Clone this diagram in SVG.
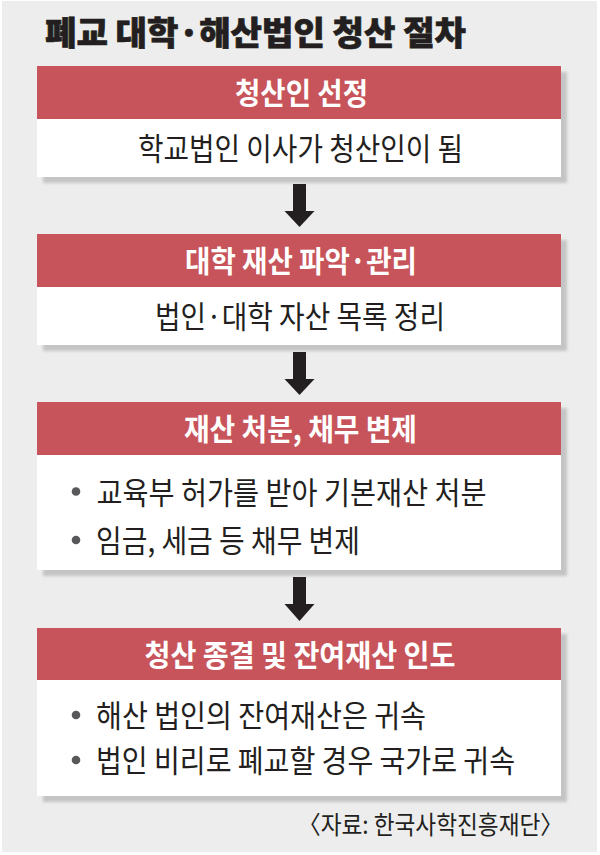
<svg xmlns="http://www.w3.org/2000/svg" width="600" height="855" viewBox="0 0 600 855">
  <defs>
    <filter id="shadow" x="-5%" y="-5%" width="115%" height="125%">
      <feGaussianBlur stdDeviation="1.6"/>
    </filter>
    <style>
      .bg { fill: #ededed; }
      .shadow { fill: #c4c4c4; filter: url(#shadow); }
      .head { fill: #c7545a; }
      .body { fill: #ffffff; }
      .title { font-family: "Noto Sans CJK KR", "Noto Sans", sans-serif; font-weight: 900; font-size: 33px; fill: #231f20; stroke: #231f20; stroke-width: 0.7px; }
      .htext { font-family: "Noto Sans CJK KR", "Noto Sans", sans-serif; font-weight: 700; font-size: 30px; fill: #ffffff; }
      .btext { font-family: "Noto Sans CJK KR", "Noto Sans", sans-serif; font-weight: 400; font-size: 31px; fill: #231f20; }
      .src { font-family: "Noto Sans CJK KR", "Noto Sans", sans-serif; font-weight: 400; font-size: 25px; fill: #231f20; }
      .dot { fill: #58585a; }
      .arrow { fill: #231f20; }
    </style>
  </defs>

  <rect x="0" y="0" width="600" height="855" fill="#ffffff"/>
  <rect class="bg" x="2" y="1" width="595" height="851"/>

  <g id="title">
    <text class="title" x="45" y="45.2" textLength="421" lengthAdjust="spacingAndGlyphs">폐교 대학·해산법인 청산 절차</text>
  </g>

  <g id="step1">
    <rect class="shadow" x="43" y="72" width="524" height="111"/>
    <rect class="head" x="37" y="66" width="524" height="53"/>
    <rect class="body" x="37" y="119" width="524" height="58"/>
    <text class="htext" x="301.5" y="104" text-anchor="middle" textLength="133" lengthAdjust="spacingAndGlyphs">청산인 선정</text>
    <text class="btext" x="300.5" y="159.5" text-anchor="middle" textLength="325" lengthAdjust="spacingAndGlyphs">학교법인 이사가 청산인이 됨</text>
  </g>

  <g id="step2">
    <rect class="shadow" x="43" y="240" width="524" height="111"/>
    <rect class="head" x="37" y="234" width="524" height="53"/>
    <rect class="body" x="37" y="287" width="524" height="58"/>
    <text class="htext" x="301" y="272" text-anchor="middle" textLength="232" lengthAdjust="spacingAndGlyphs">대학 재산 파악·관리</text>
    <text class="btext" x="300" y="328" text-anchor="middle" textLength="290" lengthAdjust="spacingAndGlyphs">법인·대학 자산 목록 정리</text>
  </g>

  <g id="step3">
    <rect class="shadow" x="43" y="408" width="524" height="168"/>
    <rect class="head" x="37" y="402" width="524" height="53"/>
    <rect class="body" x="37" y="455" width="524" height="115"/>
    <text class="htext" x="300.5" y="439.5" text-anchor="middle" textLength="233" lengthAdjust="spacingAndGlyphs">재산 처분, 채무 변제</text>
    <circle class="dot" cx="76" cy="491.5" r="4.3"/>
    <text class="btext" x="96.5" y="503.5" textLength="390" lengthAdjust="spacingAndGlyphs">교육부 허가를 받아 기본재산 처분</text>
    <circle class="dot" cx="76" cy="540" r="4.3"/>
    <text class="btext" x="96" y="552" textLength="264" lengthAdjust="spacingAndGlyphs">임금, 세금 등 채무 변제</text>
  </g>

  <g id="step4">
    <rect class="shadow" x="43" y="634" width="524" height="168"/>
    <rect class="head" x="37" y="628" width="524" height="52"/>
    <rect class="body" x="37" y="680" width="524" height="116"/>
    <text class="htext" x="300" y="665.5" text-anchor="middle" textLength="311" lengthAdjust="spacingAndGlyphs">청산 종결 및 잔여재산 인도</text>
    <circle class="dot" cx="76" cy="715" r="4.3"/>
    <text class="btext" x="96" y="727" textLength="330" lengthAdjust="spacingAndGlyphs">해산 법인의 잔여재산은 귀속</text>
    <circle class="dot" cx="76" cy="760" r="4.3"/>
    <text class="btext" x="96" y="772" textLength="419" lengthAdjust="spacingAndGlyphs">법인 비리로 폐교할 경우 국가로 귀속</text>
  </g>

  <g id="connectors">
    <path class="arrow" d="M293,184 H306 V211 H314.5 L299.5,227 L284.5,211 H293 Z"/>
    <path class="arrow" d="M293,352 H306 V379 H314.5 L299.5,395 L284.5,379 H293 Z"/>
    <path class="arrow" d="M293,577 H306 V604 H314.5 L299.5,621 L284.5,604 H293 Z"/>
  </g>

  <g id="source">
    <text class="src" x="563" y="834" text-anchor="end" textLength="265" lengthAdjust="spacingAndGlyphs">〈자료: 한국사학진흥재단〉</text>
  </g>
</svg>
